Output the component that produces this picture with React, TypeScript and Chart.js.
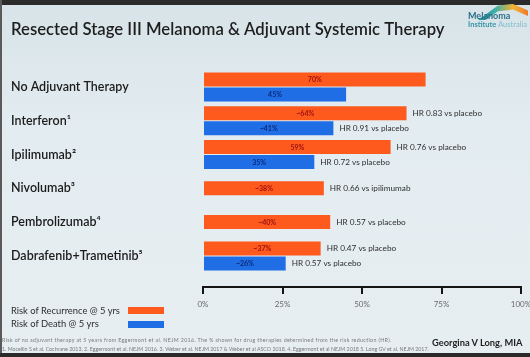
import React, { useEffect, useRef } from "react";
import { Chart, registerables } from "chart.js";

Chart.register(...registerables);

const categories = [
  "No Adjuvant Therapy",
  "Interferon¹",
  "Ipilimumab²",
  "Nivolumab³",
  "Pembrolizumab⁴",
  "Dabrafenib+Trametinib⁵",
];
const recurrence = [70, 64, 59, 38, 40, 37];
const death: (number | null)[] = [45, 41, 35, null, null, 26];
const recurrenceLabels = ["70%", "~64%", "59%", "~38%", "~40%", "~37%"];
const deathLabels = ["45%", "~41%", "35%", "", "", "~26%"];
const recurrenceHR = ["", "HR 0.83 vs placebo", "HR 0.76 vs placebo", "HR 0.66 vs ipilimumab", "HR 0.57 vs placebo", "HR 0.47 vs placebo"];
const deathHR = ["", "HR 0.91 vs placebo", "HR 0.72 vs placebo", "", "", "HR 0.57 vs placebo"];
const xTicks = [0, 25, 50, 75, 100];

const ORANGE = "#ff5a1e";
const BLUE = "#1f6ee6";
const FONT = "Lato";

const barLabelPlugin = {
  id: "barLabels",
  afterDatasetsDraw(chart: any) {
    const ctx = chart.ctx;
    const sets = [
      { inside: recurrenceLabels, hr: recurrenceHR, color: "#9a0f0f" },
      { inside: deathLabels, hr: deathHR, color: "#0b2a7a" },
    ];
    sets.forEach((s, di) => {
      const meta = chart.getDatasetMeta(di);
      meta.data.forEach((el: any, i: number) => {
        const raw = chart.data.datasets[di].data[i];
        if (!raw || raw.x === null || raw.x === undefined) return;
        const { x, y, base } = el.getProps(["x", "y", "base"], true);
        ctx.save();
        ctx.textBaseline = "middle";
        if (s.inside[i]) {
          ctx.font = `bold 7px ${FONT}`;
          ctx.fillStyle = s.color;
          ctx.textAlign = "center";
          ctx.fillText(s.inside[i], (x + base) / 2, y + 0.5);
        }
        if (s.hr[i]) {
          ctx.font = `8.2px ${FONT}`;
          ctx.fillStyle = "#2e2e2e";
          ctx.textAlign = "left";
          ctx.fillText(s.hr[i], x + 6, y);
        }
        ctx.restore();
      });
    });
  },
};

export default function App() {
  const ref = useRef<HTMLCanvasElement | null>(null);

  useEffect(() => {
    document.body.style.margin = "0";
    if (!ref.current) return;
    const chart = new Chart(ref.current, {
      type: "bar",
      data: {
        datasets: [
          { label: "Risk of Recurrence @ 5 yrs", data: recurrence.map((v, i) => ({ x: v, y: i })), backgroundColor: ORANGE, skipNull: true } as any,
          { label: "Risk of Death @ 5 yrs", data: death.map((v, i) => ({ x: v, y: i })), backgroundColor: BLUE, skipNull: true } as any,
        ],
      },
      options: {
        indexAxis: "y",
        animation: false,
        responsive: false,
        categoryPercentage: 0.89,
        barPercentage: 0.93,
        maxBarThickness: 14,
        layout: { padding: { left: 11, right: 9 } },
        plugins: {
          legend: { display: false },
          tooltip: { enabled: false },
          title: {
            display: true,
            text: "Resected Stage III Melanoma & Adjuvant Systemic Therapy",
            align: "start",
            color: "#1e1e1e",
            font: { family: FONT, size: 16.7, weight: "600", lineHeight: 1.2 },
            padding: { top: 19.3, bottom: 30.7 },
          },
        },
        scales: {
          x: {
            type: "linear",
            min: 0,
            max: 100,
            afterBuildTicks: (s: any) => { s.ticks = xTicks.map((v) => ({ value: v })); },
            afterFit: (s: any) => { s.height = 70; s.paddingRight = 0; s.paddingLeft = 0; },
            ticks: { callback: (v: any) => v + "%", color: "#6a6a6a", font: { family: FONT, size: 8 }, padding: 6 },
            grid: { drawOnChartArea: false, drawTicks: true, tickLength: 7, color: "#151515", lineWidth: 2 },
            border: { display: true, color: "#151515", width: 2 },
          },
          y: {
            type: "linear",
            reverse: true,
            min: -0.5,
            max: 5.92,
            offset: false,
            afterBuildTicks: (s: any) => { s.ticks = categories.map((_, i) => ({ value: i })); },
            afterFit: (s: any) => { s.width = 192; },
            ticks: {
              callback: (v: any) => categories[v] ?? "",
              crossAlign: "far",
              color: "#1b1b1b",
              font: { family: FONT, size: 12.5, weight: "600" },
            },
            grid: { display: false },
            border: { display: false },
          },
        },
      },
      plugins: [barLabelPlugin],
    } as any);
    return () => chart.destroy();
  }, []);

  const abs = (s: React.CSSProperties): React.CSSProperties => ({ position: "absolute", ...s });

  return (
    <div
      style={{
        position: "relative",
        width: 530,
        height: 357,
        overflow: "hidden",
        background: "linear-gradient(180deg, #d7e3e8 0%, #e3ecf0 35%, #e6eef1 100%)",
        fontFamily: "Lato",
      }}
    >
      <canvas ref={ref} width={530} height={357} style={abs({ left: 0, top: 0 })} />
      <div style={abs({ left: 0, top: 0, width: 530, height: 5, background: "#2b2b2b" })} />
      <div style={abs({ left: 0, top: 0, width: 2, height: 357, background: "#5a5a5a" })} />
      <div style={abs({ left: 0, top: 353, width: 530, height: 4, background: "#2a2a2a" })} />
      <div
        style={abs({
          left: 478,
          top: 4,
          width: 50,
          height: 16,
          background: "linear-gradient(90deg, #1e8a9a 0%, #3fb0a8 35%, #f2b233 70%, #f07a2a 100%)",
          clipPath: "polygon(0 100%, 40% 10%, 70% 0, 100% 40%, 100% 75%, 70% 35%, 40% 45%, 15% 100%)",
        })}
      />
      <div style={abs({ left: 468, top: 11, fontSize: 9, fontWeight: 700, color: "#2b6f86", lineHeight: "10px" })}>Melanoma</div>
      <div style={abs({ left: 468, top: 20, fontSize: 7.5, fontWeight: 700, color: "#3a93a8", lineHeight: "9px", whiteSpace: "nowrap" })}>
        Institute <span style={{ color: "#80bccb", fontWeight: 400 }}>Australia</span>
      </div>
      <div style={abs({ left: 11, top: 305, fontSize: 9.4, color: "#2e2e2e", lineHeight: "12px", whiteSpace: "nowrap" })}>
        Risk of Recurrence @ 5 yrs
      </div>
      <div style={abs({ left: 128, top: 307, width: 36, height: 7, background: ORANGE })} />
      <div style={abs({ left: 11, top: 318, fontSize: 9.4, color: "#2e2e2e", lineHeight: "12px", whiteSpace: "nowrap" })}>
        Risk of Death @ 5 yrs
      </div>
      <div style={abs({ left: 128, top: 321, width: 36, height: 7, background: BLUE })} />
      <div style={abs({ left: 2, top: 337, fontSize: 5.3, letterSpacing: "0.35px", color: "#7a7a7a", lineHeight: "6px", whiteSpace: "nowrap" })}>
        Risk of no adjuvant therapy at 5 years from Eggermont et al. NEJM 2016. The % shown for drug therapies determined from the risk reduction (HR).
      </div>
      <div style={abs({ left: 2, top: 346, fontSize: 5.3, color: "#7a7a7a", lineHeight: "6px", whiteSpace: "nowrap" })}>
        1. Mocellin S et al. Cochrane 2013. 2. Eggermont et al. NEJM 2016. 3. Weber et al. NEJM 2017 &amp; Weber et al ASCO 2018. 4. Eggermont et al NEJM 2018 5. Long GV et al. NEJM 2017.
      </div>
      <div style={abs({ left: 432, top: 337, fontSize: 9.3, fontWeight: 700, color: "#1e1e1e", lineHeight: "12px", whiteSpace: "nowrap" })}>
        Georgina V Long, MIA
      </div>
    </div>
  );
}
